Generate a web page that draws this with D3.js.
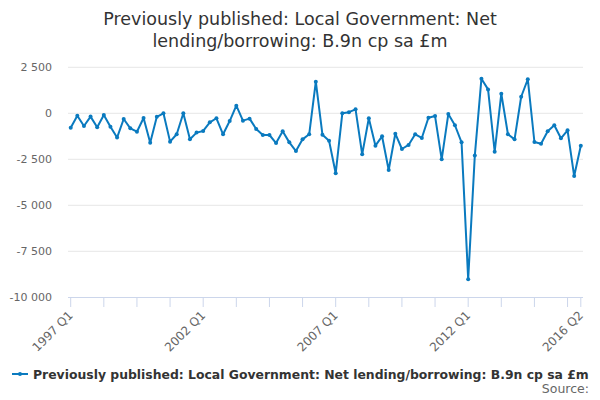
<!DOCTYPE html>
<html>
<head>
<meta charset="utf-8">
<script src="https://cdn.jsdelivr.net/npm/d3@7"></script>
<style>
  body { margin: 0; background: #fff; }
  svg { font-family: "DejaVu Sans", sans-serif; }
</style>
</head>
<body>
<svg id="chart" width="600" height="400"></svg>
<script>
const titleLines = ['Previously published: Local Government: Net', 'lending/borrowing: B.9n cp sa £m'];
const seriesName = 'Previously published: Local Government: Net lending/borrowing: B.9n cp sa £m';

// quarterly, 1997 Q1 .. 2016 Q2
const quarters = [];
for (let yr = 1997; yr <= 2016; yr++) {
  for (let q = 1; q <= 4; q++) {
    if (yr === 2016 && q > 2) break;
    quarters.push(`${yr} Q${q}`);
  }
}

const values = [
  -780, -130, -690, -180, -760, -90, -730, -1320, -310, -815,
  -1000, -255, -1600, -190, 0, -1540, -1140, 0, -1410, -1050,
  -960, -490, -270, -1140, -420, 415, -400, -290, -850, -1180,
  -1180, -1615, -980, -1580, -2050, -1415, -1140, 1720, -1160, -1490,
  -3260, 0, 60, 215, -2230, -270, -1760, -1250, -3080, -1110,
  -1940, -1720, -1140, -1340, -240, -150, -2500, -40, -650, -1580,
  -9020, -2300, 1880, 1300, -2090, 1065, -1140, -1415, 900, 1850,
  -1560, -1650, -980, -650, -1360, -925, -3410, -1760
];

const yTicks = [2500, 0, -2500, -5000, -7500, -10000];
const xLabelled = ['1997 Q1', '2002 Q1', '2007 Q1', '2012 Q1', '2016 Q2'];
const xTicked = quarters.filter((q, i) => i % 5 === 0 || i === quarters.length - 1);

const svg = d3.select('#chart');
const lineColor = '#0a7abf';

const x = d3.scalePoint().domain(quarters).range([70.7, 580.8]);
const y = d3.scaleLinear().domain([-10000, 2500]).range([297.3, 67.3]);

// title
svg.append('text')
  .attr('x', 300).attr('y', 25)
  .attr('text-anchor', 'middle')
  .attr('font-size', 17.5)
  .attr('fill', '#333')
  .selectAll('tspan')
  .data(titleLines)
  .enter().append('tspan')
  .attr('x', 300)
  .attr('dy', (d, i) => i === 0 ? 0 : 22)
  .text(d => d);

// gridlines
svg.append('g')
  .selectAll('line')
  .data(yTicks.filter(d => d !== -10000))
  .enter().append('line')
  .attr('x1', 68).attr('x2', 583)
  .attr('y1', d => y(d)).attr('y2', d => y(d))
  .attr('stroke', '#e6e6e6');

// y axis labels, space as thousands separator, plain hyphen for minus
const fmt = d => d3.format(',')(d).replace(/,/g, ' ').replace('\u2212', '-');
svg.append('g')
  .selectAll('text')
  .data(yTicks)
  .enter().append('text')
  .attr('x', 52)
  .attr('y', d => y(d) + 4)
  .attr('text-anchor', 'end')
  .attr('font-size', 11)
  .attr('fill', '#666')
  .text(fmt);

// x axis
const xAxis = svg.append('g');
xAxis.append('line')
  .attr('x1', 68).attr('x2', 583)
  .attr('y1', 297.5).attr('y2', 297.5)
  .attr('stroke', '#ccd6eb');
xAxis.selectAll('line.tick')
  .data(xTicked)
  .enter().append('line')
  .attr('class', 'tick')
  .attr('x1', d => x(d)).attr('x2', d => x(d))
  .attr('y1', 297.5).attr('y2', 307)
  .attr('stroke', '#ccd6eb');
xAxis.selectAll('text')
  .data(xLabelled)
  .enter().append('text')
  .attr('transform', d => `translate(${x(d) + 3},${316}) rotate(-45)`)
  .attr('text-anchor', 'end')
  .attr('font-size', 12)
  .attr('fill', '#666')
  .text(d => d);

// series line
const line = d3.line()
  .x((d, i) => x(quarters[i]))
  .y(d => y(d));

svg.append('path')
  .datum(values)
  .attr('d', line)
  .attr('fill', 'none')
  .attr('stroke', lineColor)
  .attr('stroke-width', 2)
  .attr('stroke-linejoin', 'round');

svg.append('g')
  .selectAll('circle')
  .data(values)
  .enter().append('circle')
  .attr('cx', (d, i) => x(quarters[i]))
  .attr('cy', d => y(d))
  .attr('r', 2)
  .attr('fill', lineColor);

// legend
const legend = svg.append('g').attr('transform', 'translate(12,374)');
legend.append('line')
  .attr('x1', 0).attr('x2', 16)
  .attr('stroke', lineColor).attr('stroke-width', 2);
legend.append('circle')
  .attr('cx', 8).attr('r', 2).attr('fill', lineColor);
legend.append('text')
  .attr('x', 21).attr('y', 4.5)
  .attr('font-size', 12.4)
  .attr('font-weight', 'bold')
  .attr('fill', '#333')
  .text(seriesName);

// credits
svg.append('text')
  .attr('x', 589).attr('y', 393)
  .attr('text-anchor', 'end')
  .attr('font-size', 12.5)
  .attr('fill', '#666')
  .text('Source:');
</script>
</body>
</html>
